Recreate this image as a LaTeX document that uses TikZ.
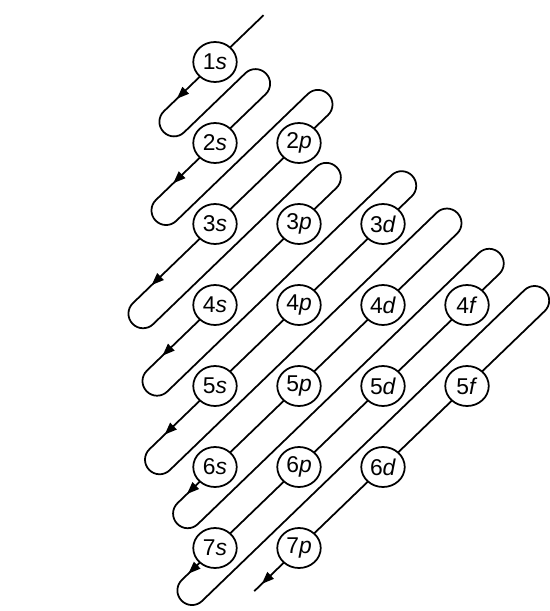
\documentclass[tikz,border=0pt]{standalone}
\usepackage{fontspec}
\setmainfont{Liberation Sans}
\usetikzlibrary{arrows.meta,shapes.geometric}
\begin{document}
\begin{tikzpicture}[x=0.02cm,y=-0.02cm,
  orb/.style={draw, ellipse, fill=white, line width=1pt, minimum width=0.87cm,
    minimum height=0.8cm, inner sep=0pt, font=\fontsize{13pt}{15pt}\selectfont},
  diag/.style={shift={(215,{62+81*(#1-1)})},
    x={(0.7198*0.02cm,0.6941*0.02cm)}, y={(0.6941*0.02cm,-0.7198*0.02cm)}},
  serp/.style={line width=1pt, rounded corners=0.29cm},
  tipa/.style={-{Triangle[length=7pt,width=5.2pt]}, line width=1pt}]
\useasboundingbox (0,0) rectangle (550,611);
% ---- construction points along each diagonal (t along the diagonal, s across it)
\begin{scope}[diag=1]
  \coordinate (st) at (67.4,0);
  \coordinate (b11) at (-85.6,0);   \coordinate (b12) at (-85.6,29.15);
  \coordinate (a1) at (-53,0);      \coordinate (a1b) at (-44,0);
\end{scope}
\begin{scope}[diag=2]
  \coordinate (t21) at (84.9,-29.15); \coordinate (t22) at (84.9,0);
  \coordinate (b21) at (-96.6,0);   \coordinate (b22) at (-96.6,29.15);
  \coordinate (a2) at (-58,0);      \coordinate (a2b) at (-49,0);
\end{scope}
\begin{scope}[diag=3]
  \coordinate (t31) at (171.6,-29.15); \coordinate (t32) at (171.6,0);
  \coordinate (b31) at (-128.6,0);  \coordinate (b32) at (-128.6,29.15);
  \coordinate (a3) at (-88,0);      \coordinate (a3b) at (-79,0);
\end{scope}
\begin{scope}[diag=4]
  \coordinate (t41) at (183.2,-29.15); \coordinate (t42) at (183.2,0);
  \coordinate (b41) at (-109.1,0);  \coordinate (b42) at (-109.1,29.15);
  \coordinate (a4) at (-73,0);      \coordinate (a4b) at (-64,0);
\end{scope}
\begin{scope}[diag=5]
  \coordinate (t51) at (287.9,-29.15); \coordinate (t52) at (287.9,0);
  \coordinate (b51) at (-105.6,0);  \coordinate (b52) at (-105.6,29.15);
  \coordinate (a5) at (-70,0);      \coordinate (a5b) at (-61,0);
\end{scope}
\begin{scope}[diag=6]
  \coordinate (t61) at (350.8,-29.15); \coordinate (t62) at (350.8,0);
  \coordinate (b61) at (-66.6,0);   \coordinate (b62) at (-66.6,29.15);
  \coordinate (a6) at (-39,0);      \coordinate (a6b) at (-30,0);
\end{scope}
\begin{scope}[diag=7]
  \coordinate (t71) at (409.5,-29.15); \coordinate (t72) at (409.5,0);
  \coordinate (b71) at (-60.6,0);   \coordinate (b72) at (-60.6,29.15);
  \coordinate (a7) at (-37,0);      \coordinate (a7b) at (-28,0);
\end{scope}
\begin{scope}[diag=8]
  \coordinate (t81) at (472.6,-29.15); \coordinate (t82) at (472.6,0);
  \coordinate (en) at (54.5,0);
  \coordinate (a8) at (65,0);       \coordinate (a8b) at (74,0);
\end{scope}
% ---- the serpentine line
\draw[serp] (st) -- (b11) -- (b12)
  -- (t21) -- (t22) -- (b21) -- (b22)
  -- (t31) -- (t32) -- (b31) -- (b32)
  -- (t41) -- (t42) -- (b41) -- (b42)
  -- (t51) -- (t52) -- (b51) -- (b52)
  -- (t61) -- (t62) -- (b61) -- (b62)
  -- (t71) -- (t72) -- (b71) -- (b72)
  -- (t81) -- (t82) -- (en);
% ---- arrowheads
\foreach \i in {1,...,8} \draw[tipa] (a\i b) -- (a\i);
% ---- orbitals
\node[orb] (o1s) at (215,62)  {1\textit{s}};
\node[orb] (o2s) at (215,143) {2\textit{s}};
\node[orb] (o2p) at (299,143) {2\textit{p}};
\node[orb] (o3s) at (215,224) {3\textit{s}};
\node[orb] (o3p) at (299,224) {3\textit{p}};
\node[orb] (o3d) at (383,224) {3\textit{d}};
\node[orb] (o4s) at (215,305) {4\textit{s}};
\node[orb] (o4p) at (299,305) {4\textit{p}};
\node[orb] (o4d) at (383,305) {4\textit{d}};
\node[orb] (o4f) at (467,305) {4\textit{f}};
\node[orb] (o5s) at (215,386) {5\textit{s}};
\node[orb] (o5p) at (299,386) {5\textit{p}};
\node[orb] (o5d) at (383,386) {5\textit{d}};
\node[orb] (o5f) at (467,386) {5\textit{f}};
\node[orb] (o6s) at (215,467) {6\textit{s}};
\node[orb] (o6p) at (299,467) {6\textit{p}};
\node[orb] (o6d) at (383,467) {6\textit{d}};
\node[orb] (o7s) at (215,548) {7\textit{s}};
\node[orb] (o7p) at (299,548) {7\textit{p}};
\end{tikzpicture}
\end{document}
